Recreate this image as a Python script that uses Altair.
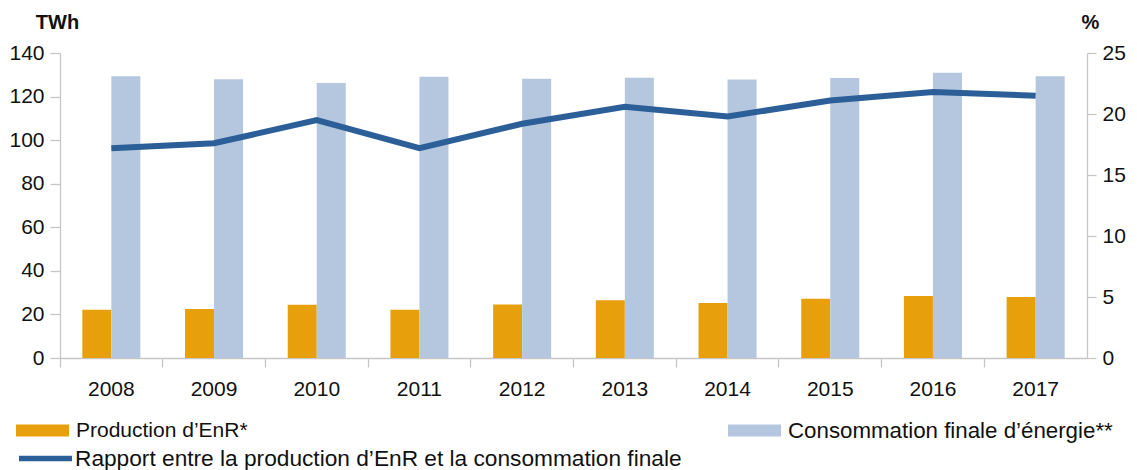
import altair as alt
import pandas as pd

years = [str(y) for y in range(2008, 2018)]
prod = [22.2, 22.5, 24.5, 22.2, 24.6, 26.5, 25.2, 27.2, 28.5, 28.0]
conso = [129.3, 128.0, 126.2, 129.1, 128.2, 128.6, 127.8, 128.5, 130.9, 129.3]
ratio = [17.2, 17.6, 19.5, 17.2, 19.2, 20.6, 19.8, 21.1, 21.8, 21.5]

P = "Production d’EnR*"
C = "Consommation finale d’énergie**"
R = "Rapport entre la production d’EnR et la consommation finale"

ORANGE = "#e89f0c"
LIGHT = "#b5c7de"
DARK = "#2c5f98"
GRID = "#c6c6c6"
FONT = "Liberation Sans"

bars_df = pd.DataFrame({
    "year": years * 2,
    "series": [P] * len(years) + [C] * len(years),
    "value": prod + conso,
})
line_df = pd.DataFrame({"year": years, "series": R, "ratio": ratio})

x_enc = alt.X(
    "year:N",
    scale=alt.Scale(paddingInner=0, paddingOuter=0),
    axis=alt.Axis(title=None, bandPosition=0, labelAngle=0, tickSize=9,
                  labelPadding=11, labelFontSize=21),
)
xoff = alt.XOffset("series:N", scale=alt.Scale(domain=[P, C], paddingInner=0, paddingOuter=0.77))
y_left = alt.Y(
    "value:Q",
    scale=alt.Scale(domain=[0, 140]),
    axis=alt.Axis(values=list(range(0, 141, 20)), title="TWh", titleAngle=0,
                  titleX=-3, titleY=-25, titleAlign="center", titleBaseline="alphabetic",
                  titleFontSize=20, titleFontWeight="bold", tickSize=10, labelPadding=6,
                  labelFontSize=21),
)

def bar_layer(name, color, lx, ly, fs):
    return alt.Chart(bars_df).transform_filter(alt.datum.series == name).mark_bar(
        color=color
    ).encode(
        x=x_enc,
        xOffset=xoff,
        y=y_left,
        color=alt.Color(
            "series:N",
            scale=alt.Scale(domain=[name], range=[color]),
            legend=alt.Legend(
                title=None, orient="none", legendX=lx, legendY=ly, padding=0,
                symbolType="M-1,-0.23H1V0.23H-1Z", symbolSize=2809,
                symbolStrokeWidth=0, labelFontSize=fs, labelOffset=7, labelLimit=0,
                labelFont=FONT, labelColor="#111111",
            ),
        ),
    )

orange = bar_layer(P, ORANGE, -44, 351, 21)
light = bar_layer(C, LIGHT, 668, 351, 22.3)
bars = alt.layer(orange, light).resolve_scale(color="independent")

line = alt.Chart(line_df).mark_line(strokeWidth=6, strokeJoin="miter").encode(
    x=x_enc,
    y=alt.Y(
        "ratio:Q",
        scale=alt.Scale(domain=[0, 25]),
        axis=alt.Axis(orient="right", values=list(range(0, 26, 5)), title="%", titleAngle=0,
                      titleX=3, titleY=-25, titleAlign="center", titleBaseline="alphabetic",
                      titleFontSize=20, titleFontWeight="bold", tickSize=9, labelPadding=6,
                      labelFontSize=21),
    ),
    color=alt.Color(
        "series:N",
        scale=alt.Scale(domain=[R], range=[DARK]),
        legend=alt.Legend(
            title=None, orient="none", legendX=-44, legendY=376, padding=0,
            symbolType="stroke", symbolSize=2809, symbolStrokeWidth=5.5,
            labelFontSize=22.7, labelOffset=0, labelLimit=0, labelFont=FONT,
            labelColor="#111111",
        ),
    ),
)

chart = alt.layer(bars, line).resolve_scale(y="independent", color="independent").properties(
    width=1027,
    height=305,
    padding={"left": 52, "top": 45, "right": 42, "bottom": 112},
    autosize=alt.AutoSizeParams(type="none"),
).configure_view(stroke=None).configure_axis(
    domainColor=GRID, tickColor=GRID, domainWidth=1.3, tickWidth=1.3,
    labelFont=FONT, titleFont=FONT, labelColor="#111111", titleColor="#111111",
    grid=False,
)

chart.save("out.html", embed_options={"renderer": "svg", "actions": False})
